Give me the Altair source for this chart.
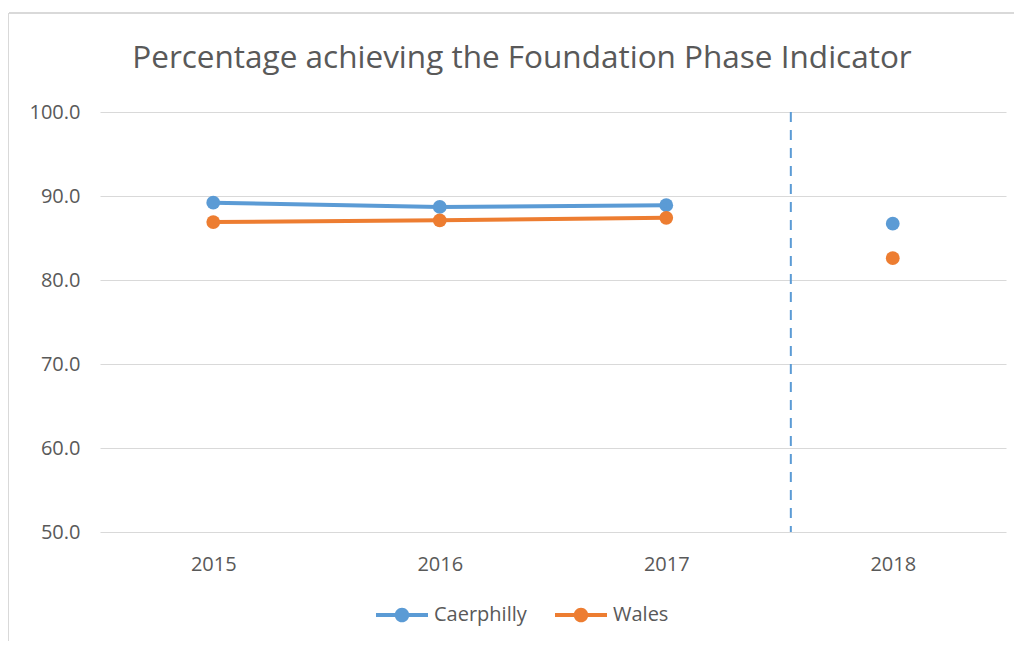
import altair as alt
import pandas as pd

years = [2015, 2016, 2017, 2018]
caerphilly = [89.2, 88.7, 88.9, 86.7]
wales = [86.9, 87.1, 87.4, 82.6]
series_names = ["Caerphilly", "Wales"]
series_colors = ["#5B9BD5", "#ED7D31"]
y_ticks = [50, 60, 70, 80, 90, 100]
divider_year = 2017.55

rows = []
for name, vals in zip(series_names, [caerphilly, wales]):
    for yr, v in zip(years, vals):
        rows.append({"year": yr, "series": name, "value": v})
df = pd.DataFrame(rows)

x_scale = alt.Scale(domain=[2014.5, 2018.5], nice=False, zero=False)
y_scale = alt.Scale(domain=[50, 100], nice=False, zero=False)
col_scale = alt.Scale(domain=series_names, range=series_colors)

FONT = "Open Sans"
TXT = "#595959"

x_enc = alt.X("year:Q", scale=x_scale, title=None,
              axis=alt.Axis(values=years, format="d", grid=False, ticks=False,
                            domain=False, labelFontSize=20, labelColor=TXT,
                            labelFont=FONT, labelPadding=22))
y_enc = alt.Y("value:Q", scale=y_scale, title=None,
              axis=alt.Axis(values=y_ticks, format=".1f", ticks=False, domain=False,
                            gridColor="#d9d9d9", gridWidth=1, labelFontSize=20,
                            labelColor=TXT, labelFont=FONT, labelPadding=20))

legend_symbol = ("M-1,-0.077H1V0.077H-1Z "
                 "M-0.28,0A0.28,0.28 0 1,1 0.28,0A0.28,0.28 0 1,1 -0.28,0Z")
legend = alt.Legend(title=None, orient="none", direction="horizontal",
                    legendX=276, legendY=477, symbolType=legend_symbol,
                    symbolSize=2704, symbolStrokeWidth=0,
                    labelFontSize=20, labelColor=TXT, labelFont=FONT,
                    labelOffset=6, columnPadding=28, padding=0)

base = alt.Chart(df)

points = base.mark_point(filled=True, size=190, opacity=1).encode(
    x=x_enc, y=y_enc,
    color=alt.Color("series:N", scale=col_scale, legend=legend),
)

lines = base.mark_line(strokeWidth=4).encode(
    x=x_enc, y=y_enc,
    color=alt.Color("series:N", scale=col_scale, legend=legend),
).transform_filter(alt.datum.year <= 2017)

divider = alt.Chart(pd.DataFrame({"x": [divider_year]})).mark_rule(
    color="#5B9BD5", strokeWidth=2, strokeDash=[10, 8]
).encode(x=alt.X("x:Q", scale=x_scale))

border_top = alt.Chart(pd.DataFrame({"a": [0]})).mark_rule(
    color="#d9d9d9", strokeWidth=2
).encode(x=alt.value(-91), x2=alt.value(920), y=alt.value(-99))
border_left = alt.Chart(pd.DataFrame({"a": [0]})).mark_rule(
    color="#d9d9d9", strokeWidth=2
).encode(x=alt.value(-92), y=alt.value(-99), y2=alt.value(540))

chart = alt.layer(border_top, border_left, divider, points, lines).properties(
    width=906, height=420,
    title=alt.TitleParams("Percentage achieving the Foundation Phase Indicator",
                          anchor="middle", fontSize=31.5, font=FONT, color=TXT,
                          fontWeight="normal", offset=-62, dx=-31),
    autosize=alt.AutoSizeParams(type="none"),
    padding={"left": 92, "top": 104, "right": 8, "bottom": 109},
    view=alt.ViewBackground(stroke="transparent", strokeWidth=0),
).configure_view(stroke="transparent", strokeWidth=0).configure(background="white")

chart.save("out.html", embed_options={"renderer": "svg", "actions": False})
